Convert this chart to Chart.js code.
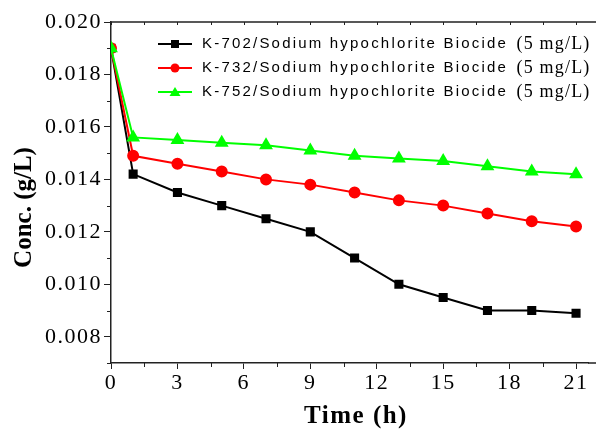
<!DOCTYPE html>
<html><head><meta charset="utf-8">
<script src="https://cdn.jsdelivr.net/npm/chart.js@4/dist/chart.umd.min.js"></script>
<style>html,body{margin:0;padding:0;background:#fff}#wrap{width:596px;height:432px}</style>
</head><body><div id="wrap"><canvas id="c" width="596" height="432"></canvas></div>
<script>
const times = [0, 1, 3, 5, 7, 9, 11, 13, 15, 17, 19, 21];
const k702 = [0.0190, 0.0142, 0.0135, 0.0130, 0.0125, 0.0120, 0.0110, 0.0100, 0.0095, 0.0090, 0.0090, 0.0089];
const k732 = [0.0190, 0.0149, 0.0146, 0.0143, 0.0140, 0.0138, 0.0135, 0.0132, 0.0130, 0.0127, 0.0124, 0.0122];
const k752 = [0.0190, 0.0156, 0.0155, 0.0154, 0.0153, 0.0151, 0.0149, 0.0148, 0.0147, 0.0145, 0.0143, 0.0142];
const seriesNames = ['K-702/Sodium hypochlorite Biocide', 'K-732/Sodium hypochlorite Biocide', 'K-752/Sodium hypochlorite Biocide'];
const seriesUnit = '(5 mg/L)';
const xTicks = [0, 3, 6, 9, 12, 15, 18, 21];
const yTicks = [0.008, 0.010, 0.012, 0.014, 0.016, 0.018, 0.020];
const xTitle = 'Time (h)';
const yTitle = 'Conc. (g/L)';

const colors = ['#000000', '#ff0000', '#00ff00'];
const styles = ['rect', 'circle', 'triangle'];
const radii = [5, 5, 6];
const vals = [k702, k732, k752];

const serif = '"Liberation Serif", "Times New Roman", serif';
const sans = '"Liberation Sans", Arial, sans-serif';

const datasets = vals.map((v, i) => ({
  label: seriesNames[i] + ' ' + seriesUnit,
  data: times.map((t, j) => ({x: t, y: v[j]})),
  borderColor: colors[i],
  backgroundColor: colors[i],
  pointBackgroundColor: colors[i],
  pointBorderColor: colors[i],
  pointStyle: styles[i],
  pointRadius: radii[i],
  borderWidth: 2,
  tension: 0,
  order: 3 - i
}));

const framePlugin = {
  id: 'frame',
  beforeDraw(chart) { chart.ctx.letterSpacing = '1.5px'; },
  beforeDatasetsDraw(chart) { chart.ctx.letterSpacing = '0px'; },
  afterDraw(chart) {
    const {ctx, chartArea: a, scales: {x, y}} = chart;
    ctx.save();
    ctx.letterSpacing = '0px';
    ctx.strokeStyle = '#222';
    ctx.lineWidth = 1.5;
    ctx.beginPath();
    ctx.moveTo(a.left, a.top); ctx.lineTo(chart.width, a.top);
    ctx.moveTo(a.right, a.bottom); ctx.lineTo(chart.width, a.bottom);
    ctx.stroke();
    ctx.lineWidth = 1;
    const xs = xTicks[1] - xTicks[0];
    for (let i = 0; i < xTicks.length; i++) {
      const m = xTicks[i] + xs / 2;
      if (m > x.max) continue;
      const px = Math.round(x.getPixelForValue(m)) + 0.5;
      ctx.beginPath(); ctx.moveTo(px, a.bottom); ctx.lineTo(px, a.bottom + 4); ctx.stroke();
    }
    for (let i = 0; i < xTicks.length; i++) {
      for (const off of [0, xs / 2]) {
        const v = xTicks[i] + off;
        if (v > x.max) continue;
        const px = Math.round(x.getPixelForValue(v)) + 0.5;
        ctx.beginPath(); ctx.moveTo(px, a.top); ctx.lineTo(px, a.top + 3); ctx.stroke();
      }
    }
    const ys = yTicks[1] - yTicks[0];
    for (let v = yTicks[0] - ys / 2; v < y.max; v += ys) {
      if (v < y.min) continue;
      const py = Math.round(y.getPixelForValue(v)) + 0.5;
      ctx.beginPath(); ctx.moveTo(a.left, py); ctx.lineTo(a.left - 4, py); ctx.stroke();
    }
    // axis titles
    ctx.fillStyle = '#000';
    ctx.font = 'bold 25px ' + serif;
    ctx.textAlign = 'center';
    ctx.textBaseline = 'middle';
    ctx.letterSpacing = '1.5px';
    ctx.fillText(xTitle, 356, 417);
    ctx.letterSpacing = '0px';
    ctx.save();
    ctx.translate(25, (a.top + a.bottom) / 2 + 15);
    ctx.rotate(-Math.PI / 2);
    ctx.fillText(yTitle, 0, 0);
    ctx.restore();
    // legend
    ctx.textAlign = 'left';
    const lx = 158, ly0 = 44, dy = 24;
    for (let i = 0; i < 3; i++) {
      const yy = ly0 + i * dy;
      ctx.strokeStyle = colors[i];
      ctx.fillStyle = colors[i];
      ctx.lineWidth = 2;
      ctx.beginPath(); ctx.moveTo(lx, yy); ctx.lineTo(lx + 34, yy); ctx.stroke();
      const cx = lx + 17;
      ctx.beginPath();
      if (i === 0) { ctx.rect(cx - 4, yy - 4, 8, 8); }
      else if (i === 1) { ctx.arc(cx, yy, 4.5, 0, Math.PI * 2); }
      else { ctx.moveTo(cx, yy - 5); ctx.lineTo(cx + 5.5, yy + 4); ctx.lineTo(cx - 5.5, yy + 4); ctx.closePath(); }
      ctx.fill();
      ctx.fillStyle = '#000';
      ctx.textBaseline = 'middle';
      ctx.font = '15px ' + sans;
      ctx.letterSpacing = '2.2px';
      ctx.fillText(seriesNames[i], lx + 44, yy);
      const w = ctx.measureText(seriesNames[i] + ' ').width;
      ctx.font = '18px ' + serif;
      ctx.letterSpacing = '1.2px';
      ctx.fillText(seriesUnit, lx + 44 + w + 2, yy);
      ctx.letterSpacing = '0px';
    }
    ctx.restore();
  }
};

new Chart(document.getElementById('c'), {
  type: 'line',
  data: {datasets},
  plugins: [framePlugin],
  options: {
    responsive: false,
    animation: false,
    layout: {padding: {left: 0, right: 0, top: 22, bottom: 0}},
    plugins: {legend: {display: false}, tooltip: {enabled: false}},
    scales: {
      x: {
        type: 'linear', min: 0, max: 21.54,
        afterBuildTicks: s => { s.ticks = xTicks.map(v => ({value: v})); },
        afterFit: s => { s.height = 69; },
        ticks: {font: {family: serif, size: 22}, color: '#000', padding: 1, maxRotation: 0,
                callback: v => String(v)},
        grid: {drawOnChartArea: false, drawTicks: true, tickLength: 6, color: '#222', lineWidth: 1},
        border: {display: true, color: '#222', width: 1.5},
        title: {display: false}
      },
      y: {
        type: 'linear', min: 0.007, max: 0.020,
        afterBuildTicks: s => { s.ticks = yTicks.map(v => ({value: v})); },
        afterFit: s => { s.width = 111; },
        ticks: {font: {family: serif, size: 22}, color: '#000', padding: 2,
                callback: v => v.toFixed(3)},
        grid: {drawOnChartArea: false, drawTicks: true, tickLength: 7, color: '#222', lineWidth: 1},
        border: {display: true, color: '#222', width: 1.5},
        title: {display: false}
      }
    }
  }
});
</script>
</body></html>
